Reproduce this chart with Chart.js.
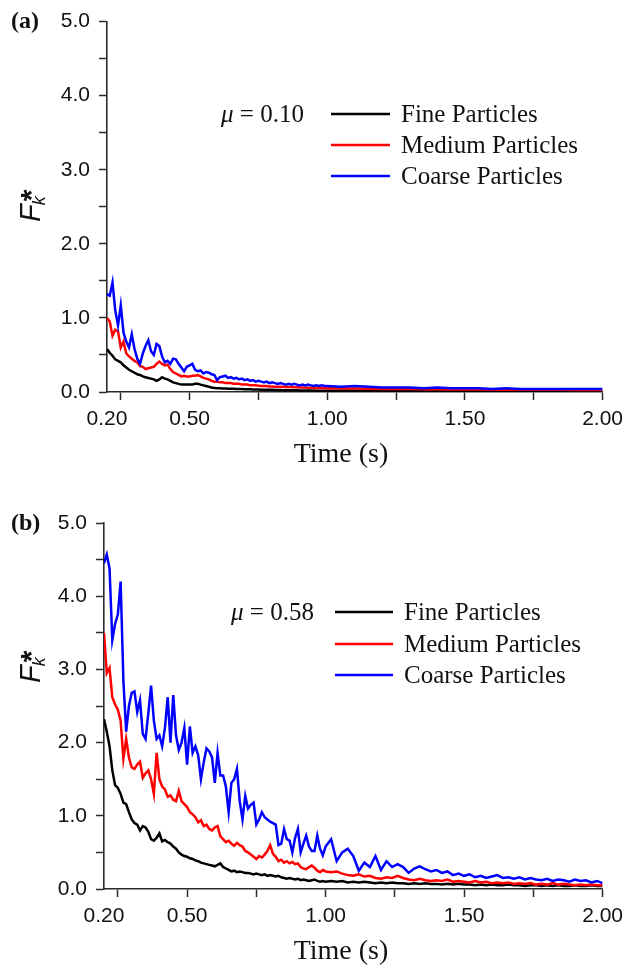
<!DOCTYPE html>
<html>
<head>
<meta charset="utf-8">
<script src="https://cdn.jsdelivr.net/npm/chart.js@4.4.1/dist/chart.umd.min.js"></script>
<style>
  body { margin: 0; background: #fff; }
  .panel { position: absolute; left: 0; }
</style>
</head>
<body>
<div class="panel" style="top:0"><canvas id="chartA" width="630" height="483"></canvas></div>
<div class="panel" style="top:483px"><canvas id="chartB" width="630" height="484"></canvas></div>
<script>
/* ---------- data ---------- */
const seriesNames = ['Fine Particles', 'Medium Particles', 'Coarse Particles'];
const xTickValues = [0.2, 0.25, 0.5, 0.75, 1.0, 1.25, 1.5, 1.75, 2.0];
const xLabelValues = [0.2, 0.5, 1.0, 1.5, 2.0];

// (a) mu = 0.10
const timeA = [
  0.20,0.21,0.22,0.23,0.24,0.25,0.26,0.27,0.28,0.29,
  0.30,0.31,0.32,0.33,0.34,0.35,0.36,0.37,0.38,0.39,
  0.40,0.41,0.42,0.43,0.44,0.45,0.46,0.47,0.48,0.49,
  0.50,0.51,0.52,0.53,0.54,0.55,0.56,0.57,0.58,0.59,
  0.60,0.61,0.62,0.63,0.64,0.65,0.66,0.67,0.68,0.69,
  0.70,0.71,0.72,0.73,0.74,0.75,0.76,0.77,0.78,0.79,
  0.80,0.81,0.82,0.83,0.84,0.85,0.86,0.87,0.88,0.89,
  0.90,0.91,0.92,0.93,0.94,0.95,0.96,0.97,0.98,0.99,
  1.00,
  1.05,1.10,1.15,1.20,1.25,1.30,1.35,1.40,1.45,1.50,
  1.55,1.60,1.65,1.70,1.75,1.80,1.85,1.90,1.95,2.00
];
const fineA = [
  0.58,0.53,0.49,0.44,0.42,0.40,0.36,0.33,0.30,0.28,
  0.26,0.24,0.23,0.21,0.20,0.19,0.18,0.17,0.15,0.17,
  0.20,0.18,0.17,0.15,0.13,0.12,0.11,0.10,0.10,0.10,
  0.10,0.10,0.11,0.11,0.10,0.09,0.08,0.07,0.06,0.055,
  0.05,0.05,0.048,0.047,0.045,0.044,0.043,0.042,0.04,0.04,
  0.038,0.037,0.036,0.035,0.034,0.033,0.032,0.031,0.03,0.03,
  0.029,0.028,0.027,0.026,0.025,0.025,0.024,0.023,0.022,0.022,
  0.021,0.021,0.02,0.02,0.019,0.019,0.018,0.018,0.018,0.017,
  0.017,
  0.016,0.016,0.015,0.015,0.014,0.014,0.013,0.013,0.012,0.012,
  0.012,0.011,0.011,0.011,0.01,0.01,0.01,0.01,0.01,0.01
];
const mediumA = [
  1.00,0.95,0.76,0.84,0.82,0.60,0.68,0.52,0.48,0.45,
  0.42,0.40,0.35,0.34,0.31,0.32,0.33,0.34,0.38,0.41,
  0.38,0.36,0.37,0.31,0.27,0.25,0.23,0.21,0.22,0.21,
  0.21,0.22,0.22,0.23,0.21,0.19,0.18,0.17,0.15,0.14,
  0.14,0.13,0.13,0.12,0.12,0.12,0.11,0.11,0.11,0.10,
  0.10,0.10,0.09,0.09,0.09,0.085,0.08,0.08,0.08,0.075,
  0.075,0.07,0.07,0.07,0.07,0.068,0.067,0.066,0.064,0.063,
  0.062,0.06,0.06,0.058,0.056,0.055,0.054,0.053,0.052,0.051,
  0.05,
  0.048,0.046,0.044,0.042,0.04,0.04,0.038,0.036,0.035,0.034,
  0.033,0.032,0.031,0.03,0.03,0.03,0.029,0.028,0.028,0.027
];
const coarseA = [
  1.32,1.30,1.48,1.10,0.90,1.17,0.80,0.68,0.60,0.78,
  0.58,0.45,0.38,0.52,0.62,0.70,0.55,0.50,0.65,0.62,
  0.48,0.40,0.42,0.38,0.45,0.44,0.38,0.33,0.28,0.34,
  0.36,0.38,0.30,0.28,0.29,0.25,0.27,0.26,0.24,0.23,
  0.16,0.20,0.21,0.22,0.19,0.20,0.18,0.19,0.17,0.18,
  0.16,0.17,0.15,0.16,0.14,0.15,0.14,0.13,0.14,0.12,
  0.13,0.12,0.11,0.12,0.11,0.10,0.11,0.10,0.11,0.10,
  0.09,0.10,0.09,0.10,0.09,0.08,0.09,0.08,0.09,0.08,
  0.08,
  0.07,0.08,0.07,0.06,0.06,0.06,0.05,0.06,0.05,0.05,
  0.05,0.04,0.05,0.04,0.04,0.04,0.04,0.04,0.04,0.04
];

// (b) mu = 0.58
const timeB = [
  0.20,0.21,0.22,0.23,0.24,0.25,0.26,0.27,0.28,0.29,
  0.30,0.31,0.32,0.33,0.34,0.35,0.36,0.37,0.38,0.39,
  0.40,0.41,0.42,0.43,0.44,0.45,0.46,0.47,0.48,0.49,
  0.50,0.51,0.52,0.53,0.54,0.55,0.56,0.57,0.58,0.59,
  0.60,0.61,0.62,0.63,0.64,0.65,0.66,0.67,0.68,0.69,
  0.70,0.71,0.72,0.73,0.74,0.75,0.76,0.77,0.78,0.79,
  0.80,0.81,0.82,0.83,0.84,0.85,0.86,0.87,0.88,0.89,
  0.90,0.91,0.92,0.93,0.94,0.95,0.96,0.97,0.98,0.99,
  1.00,
  1.02,1.04,1.06,1.08,1.10,1.12,1.14,1.16,1.18,1.20,
  1.22,1.24,1.26,1.28,1.30,1.32,1.34,1.36,1.38,1.40,
  1.42,1.44,1.46,1.48,1.50,1.52,1.54,1.56,1.58,1.60,
  1.62,1.64,1.66,1.68,1.70,1.72,1.74,1.76,1.78,1.80,
  1.82,1.84,1.86,1.88,1.90,1.92,1.94,1.96,1.98,2.00
];
const fineB = [
  2.32,2.15,1.95,1.62,1.42,1.38,1.30,1.18,1.16,1.05,
  0.95,0.90,0.88,0.80,0.86,0.84,0.78,0.68,0.66,0.70,
  0.76,0.65,0.67,0.64,0.62,0.58,0.55,0.50,0.47,0.45,
  0.44,0.42,0.41,0.39,0.38,0.36,0.35,0.34,0.33,0.32,
  0.31,0.33,0.35,0.30,0.28,0.26,0.24,0.25,0.23,0.24,
  0.23,0.22,0.22,0.21,0.20,0.21,0.20,0.19,0.20,0.18,
  0.19,0.18,0.17,0.18,0.16,0.15,0.14,0.15,0.14,0.13,
  0.14,0.12,0.13,0.12,0.11,0.12,0.13,0.11,0.10,0.11,
  0.10,
  0.11,0.10,0.11,0.09,0.10,0.09,0.10,0.09,0.08,0.09,
  0.08,0.09,0.08,0.08,0.07,0.08,0.07,0.08,0.07,0.07,
  0.06,0.07,0.06,0.07,0.06,0.06,0.05,0.06,0.05,0.06,
  0.05,0.05,0.06,0.05,0.05,0.04,0.05,0.05,0.04,0.05,
  0.04,0.05,0.04,0.04,0.05,0.04,0.04,0.05,0.04,0.04
];
const mediumB = [
  3.50,2.95,3.02,2.62,2.52,2.45,2.30,1.78,2.05,1.80,
  1.66,1.64,1.70,1.74,1.52,1.58,1.62,1.50,1.30,1.86,
  1.50,1.40,1.36,1.26,1.28,1.22,1.20,1.34,1.20,1.16,
  1.12,1.05,1.02,0.98,0.91,0.94,0.86,0.88,0.82,0.80,
  0.84,0.86,0.72,0.68,0.64,0.66,0.62,0.59,0.63,0.60,
  0.58,0.52,0.50,0.47,0.44,0.41,0.45,0.43,0.47,0.52,
  0.60,0.48,0.44,0.38,0.40,0.36,0.38,0.35,0.37,0.34,
  0.35,0.30,0.28,0.27,0.30,0.32,0.29,0.25,0.23,0.26,
  0.24,
  0.23,0.24,0.21,0.19,0.18,0.20,0.17,0.18,0.15,0.14,
  0.16,0.15,0.18,0.15,0.13,0.12,0.14,0.12,0.11,0.12,
  0.11,0.13,0.10,0.11,0.10,0.09,0.11,0.09,0.10,0.08,
  0.09,0.08,0.09,0.07,0.08,0.07,0.08,0.06,0.07,0.06,
  0.08,0.06,0.07,0.06,0.05,0.06,0.05,0.06,0.05,0.05
];
const coarseB = [
  4.45,4.57,4.38,3.40,3.62,3.75,4.20,2.85,2.15,2.50,
  2.68,2.70,2.42,2.58,2.12,2.05,2.40,2.78,2.30,2.05,
  2.10,1.95,2.20,2.62,2.00,2.65,2.10,1.90,2.00,2.20,
  1.70,2.22,1.86,1.95,1.83,1.50,1.73,1.92,1.88,1.80,
  1.45,1.86,1.55,1.55,1.40,1.05,1.45,1.50,1.64,1.20,
  0.95,1.27,1.10,1.15,1.18,0.88,0.95,1.05,0.98,0.95,
  0.92,0.90,0.88,0.60,0.62,0.82,0.68,0.66,0.50,0.70,
  0.82,0.50,0.62,0.73,0.58,0.52,0.52,0.73,0.55,0.46,
  0.58,
  0.68,0.38,0.50,0.55,0.45,0.25,0.36,0.30,0.45,0.26,
  0.38,0.30,0.34,0.30,0.22,0.28,0.31,0.27,0.24,0.26,
  0.22,0.24,0.19,0.21,0.18,0.20,0.16,0.18,0.15,0.17,
  0.19,0.15,0.16,0.14,0.16,0.13,0.15,0.13,0.12,0.14,
  0.11,0.13,0.12,0.10,0.13,0.11,0.12,0.09,0.11,0.08
];

/* ---------- look ---------- */
const lineColors = ['#000000', '#ff0000', '#0000ff'];
const axisColor = '#2b2b2b';
const SANS = '"Liberation Sans", Arial, sans-serif';
const SERIF = '"Liberation Serif", "Times New Roman", serif';

// text drawn around each panel: tag, F*_k title, time title, mu + legend
function decorations(cfg) {
  return {
    id: 'decor',
    afterDraw(chart) {
      const ctx = chart.ctx;
      ctx.save();
      ctx.fillStyle = '#111';
      ctx.textBaseline = 'alphabetic';

      // panel tag
      ctx.font = 'bold 24px ' + SERIF;
      ctx.textAlign = 'left';
      ctx.fillText(cfg.tag, 11, cfg.tagY);

      // x title
      ctx.font = '28px ' + SERIF;
      ctx.textAlign = 'center';
      ctx.fillText('Time (s)', 341, cfg.xTitleY);

      // y title F*_k, rotated: star raised, k lowered, stacked after the F
      ctx.save();
      ctx.translate(40, cfg.yTitleY);
      ctx.rotate(-Math.PI / 2);
      ctx.textAlign = 'left';
      ctx.font = 'italic 29px ' + SANS;
      ctx.fillText('F', 0, 0);
      const fw = ctx.measureText('F').width;
      ctx.font = 'italic 18px ' + SANS;
      ctx.fillText('k', fw - 1, 5);
      ctx.font = 'bold 30px ' + SANS;
      ctx.fillText('*', fw + 3, 1);
      ctx.restore();

      // mu and legend
      const lg = cfg.legend;
      ctx.textAlign = 'left';
      ctx.font = 'italic 25px ' + SERIF;
      ctx.fillText('\u03bc', lg.muX, lg.rows[0] + 8);
      const mw = ctx.measureText('\u03bc').width;
      ctx.font = '25px ' + SERIF;
      ctx.fillText(' = ' + cfg.mu, lg.muX + mw, lg.rows[0] + 8);

      chart.data.datasets.forEach((ds, i) => {
        const y = lg.rows[i];
        ctx.strokeStyle = ds.borderColor;
        ctx.lineWidth = 2.6;
        ctx.beginPath();
        ctx.moveTo(lg.lineX0, y);
        ctx.lineTo(lg.lineX1, y);
        ctx.stroke();
        ctx.fillText(ds.label, lg.textX, y + 8);
      });
      ctx.restore();
    }
  };
}

function makePanel(id, cfg) {
  const canvas = document.getElementById(id);
  const datasets = cfg.series.map((vals, i) => ({
    label: seriesNames[i],
    data: cfg.time.map((t, j) => ({ x: t, y: vals[j] })),
    borderColor: lineColors[i],
    borderWidth: 2.5,
    pointRadius: 0,
    tension: 0,
    fill: false,
    order: 3 - i
  }));

  const tickFont = { family: SANS, size: 21 };

  return new Chart(canvas, {
    type: 'line',
    data: { datasets },
    options: {
      responsive: false,
      animation: false,
      events: [],
      layout: {
        padding: { left: 0, top: cfg.area.top, right: canvas.width - cfg.area.right, bottom: 0 }
      },
      plugins: { legend: { display: false }, tooltip: { enabled: false } },
      scales: {
        x: {
          type: 'linear',
          min: 0.2,
          max: 2.0,
          afterBuildTicks: s => { s.ticks = xTickValues.map(v => ({ value: v })); },
          afterFit: s => { s.height = canvas.height - cfg.area.bottom; },
          ticks: {
            autoSkip: false,
            maxRotation: 0,
            padding: 7,
            color: '#111',
            font: tickFont,
            callback: v => xLabelValues.includes(v) ? v.toFixed(2) : ''
          },
          grid: {
            drawOnChartArea: false,
            tickLength: 8,
            tickWidth: 1.5,
            tickColor: c => (c.tick && c.tick.value === 0.2) ? 'rgba(0,0,0,0)' : axisColor
          },
          border: { color: axisColor, width: 1.6 }
        },
        y: {
          min: 0,
          max: 5,
          afterFit: s => { s.width = cfg.area.left; },
          ticks: {
            stepSize: 0.5,
            padding: 9,
            color: '#111',
            font: tickFont,
            callback: v => Number.isInteger(v) ? v.toFixed(1) : ''
          },
          grid: { drawOnChartArea: false, tickLength: 8, tickWidth: 1.5, tickColor: axisColor },
          border: { color: axisColor, width: 1.6 }
        }
      }
    },
    plugins: [decorations(cfg)]
  });
}

makePanel('chartA', {
  tag: '(a)', mu: '0.10',
  time: timeA, series: [fineA, mediumA, coarseA],
  area: { left: 107, top: 19, right: 607, bottom: 392 },
  tagY: 28, xTitleY: 462, yTitleY: 222,
  legend: { muX: 221, lineX0: 331, lineX1: 390, textX: 401, rows: [114, 145, 176] }
});

makePanel('chartB', {
  tag: '(b)', mu: '0.58',
  time: timeB, series: [fineB, mediumB, coarseB],
  area: { left: 104, top: 40, right: 603, bottom: 406 },
  tagY: 47, xTitleY: 476, yTitleY: 200,
  legend: { muX: 231, lineX0: 335, lineX1: 393, textX: 404, rows: [129, 161, 192] }
});
</script>
</body>
</html>
